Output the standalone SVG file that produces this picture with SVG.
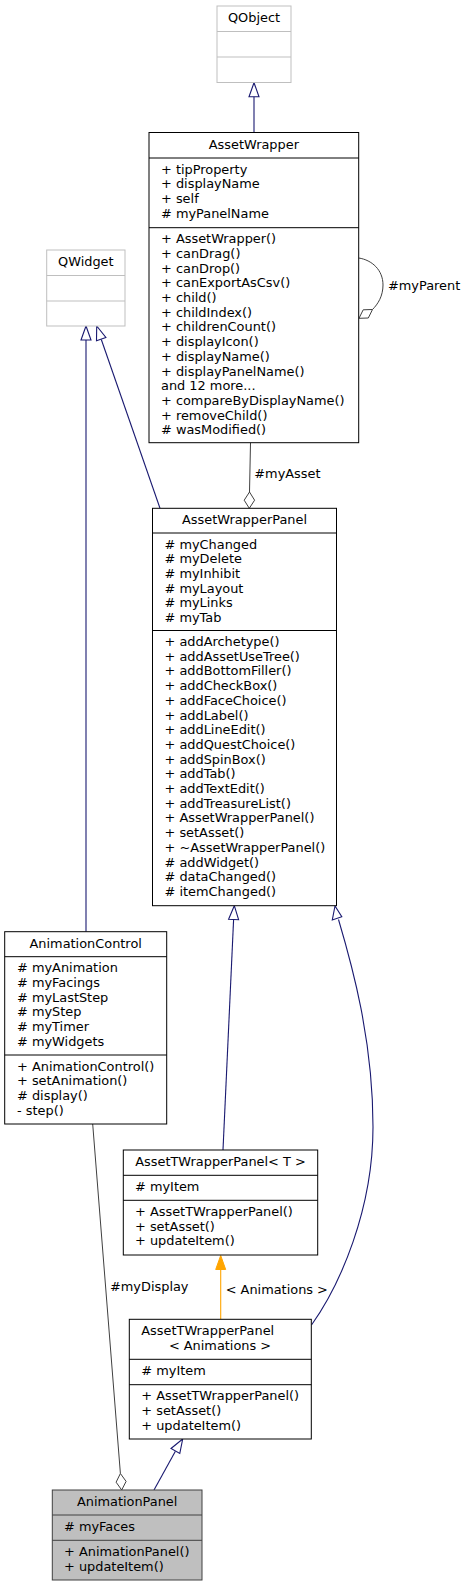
<svg xmlns="http://www.w3.org/2000/svg" width="465" height="1587" viewBox="0 0 465 1587">
<style>
text{font-family:"DejaVu Sans","Liberation Sans",sans-serif;font-size:12.9px;fill:#000}
.c{text-anchor:middle}
.box{fill:#fff;stroke:#000;stroke-width:1}
.ext{fill:#fff;stroke:#bfbfbf;stroke-width:1}
.cur{fill:#bfbfbf;stroke:#404040;stroke-width:1}
.sep{stroke:#000;stroke-width:1}
.sepg{stroke:#bfbfbf;stroke-width:1}
.sepc{stroke:#404040;stroke-width:1}
.inh{fill:none;stroke:#191970;stroke-width:1.1}
.ahead{fill:#fff;stroke:#191970;stroke-width:1.1}
.agg{fill:none;stroke:#404040;stroke-width:1}
.dia{fill:#fff;stroke:#404040;stroke-width:1}
.tpl{fill:none;stroke:orange;stroke-width:1.1}
.thead{fill:orange;stroke:orange;stroke-width:1}
</style>
<rect width="465" height="1587" fill="#fff"/>

<g id="edges">
  <!-- QObject -> AssetWrapper -->
  <line class="inh" x1="254" y1="132.5" x2="254" y2="96.5"/>
  <polygon class="ahead" points="254,82.7 249,96.7 259,96.7"/>
  <!-- QWidget -> AnimationControl -->
  <line class="inh" x1="86" y1="931.7" x2="86" y2="340"/>
  <polygon class="ahead" points="86,326 81,340 91,340"/>
  <!-- QWidget -> AssetWrapperPanel -->
  <line class="inh" x1="160" y1="508.3" x2="101.3" y2="339.5"/>
  <polygon class="ahead" points="96.7,326 96.5,340.8 105.9,337.5"/>
  <!-- AssetWrapper -> AssetWrapperPanel (#myAsset) -->
  <line class="agg" x1="250.5" y1="442.7" x2="249.5" y2="492"/>
  <polygon class="dia" points="249.3,508.3 244.2,500.2 249.5,492 254.6,500.2"/>
  <text x="254.3" y="478.3">#myAsset</text>
  <!-- AssetWrapper self (#myParent) -->
  <path class="agg" d="M358.7,258 C372,260 383,270 383,285 C383,296 378,304 372.5,309.5"/>
  <polygon class="dia" points="359,318.3 363.2,309.8 372.5,309.5 368.3,318"/>
  <text x="388" y="289.5">#myParent</text>
  <!-- AssetWrapperPanel -> AssetTWrapperPanel<T> -->
  <line class="inh" x1="223" y1="1150" x2="233.6" y2="919.5"/>
  <polygon class="ahead" points="234.3,905.7 228.6,919.3 238.6,919.7"/>
  <!-- AssetWrapperPanel -> AssetTWrapperPanel<Animations> -->
  <path class="inh" d="M338.5,919.5 C352,965 373,1040 373,1127 C373,1210 340,1285 311.5,1325"/>
  <polygon class="ahead" points="335,906 332.3,920 341.8,916.8"/>
  <!-- AssetTWrapperPanel<T> -> <Animations> (template) -->
  <line class="tpl" x1="220.7" y1="1319.3" x2="220.7" y2="1269"/>
  <polygon class="thead" points="220.7,1255.5 215.7,1269.5 225.7,1269.5"/>
  <text x="225.7" y="1294">&lt; Animations &gt;</text>
  <!-- AssetTWrapperPanel<Animations> -> AnimationPanel -->
  <line class="inh" x1="154" y1="1490" x2="175.4" y2="1451.3"/>
  <polygon class="ahead" points="182.7,1439 171,1448.5 179.8,1453.4"/>
  <!-- AnimationControl -> AnimationPanel (#myDisplay) -->
  <line class="agg" x1="92.7" y1="1124" x2="120.4" y2="1473.5"/>
  <polygon class="dia" points="121.7,1490 116.1,1482.2 120.4,1473.5 126.1,1481.4"/>
  <text x="110" y="1291">#myDisplay</text>
</g>

<g id="QObject">
  <rect class="ext" x="217" y="6" width="74" height="76.5"/>
  <line class="sepg" x1="217" y1="31.5" x2="291" y2="31.5"/>
  <line class="sepg" x1="217" y1="57" x2="291" y2="57"/>
  <text class="c" x="254" y="22">QObject</text>
</g>

<g id="AssetWrapper">
  <rect class="box" x="149" y="132.5" width="209.7" height="310.2"/>
  <line class="sep" x1="149" y1="158" x2="358.7" y2="158"/>
  <line class="sep" x1="149" y1="227.7" x2="358.7" y2="227.7"/>
  <text class="c" x="253.85" y="148.5">AssetWrapper</text>
  <text x="161" y="173.5">+ tipProperty</text>
  <text x="161" y="188.2">+ displayName</text>
  <text x="161" y="202.9">+ self</text>
  <text x="161" y="217.6"># myPanelName</text>
  <text x="161" y="243.2">+ AssetWrapper()</text>
  <text x="161" y="257.9">+ canDrag()</text>
  <text x="161" y="272.6">+ canDrop()</text>
  <text x="161" y="287.3">+ canExportAsCsv()</text>
  <text x="161" y="302">+ child()</text>
  <text x="161" y="316.7">+ childIndex()</text>
  <text x="161" y="331.4">+ childrenCount()</text>
  <text x="161" y="346.1">+ displayIcon()</text>
  <text x="161" y="360.8">+ displayName()</text>
  <text x="161" y="375.5">+ displayPanelName()</text>
  <text x="161" y="390.2">and 12 more...</text>
  <text x="161" y="404.9">+ compareByDisplayName()</text>
  <text x="161" y="419.6">+ removeChild()</text>
  <text x="161" y="434.3"># wasModified()</text>
</g>

<g id="QWidget">
  <rect class="ext" x="46.7" y="250" width="78.3" height="76"/>
  <line class="sepg" x1="46.7" y1="275.5" x2="125" y2="275.5"/>
  <line class="sepg" x1="46.7" y1="301" x2="125" y2="301"/>
  <text class="c" x="85.85" y="266">QWidget</text>
</g>

<g id="AssetWrapperPanel">
  <rect class="box" x="152.5" y="508.3" width="184" height="397.4"/>
  <line class="sep" x1="152.5" y1="533" x2="336.5" y2="533"/>
  <line class="sep" x1="152.5" y1="630.5" x2="336.5" y2="630.5"/>
  <text class="c" x="244.5" y="524.3">AssetWrapperPanel</text>
  <text x="164.5" y="548.5"># myChanged</text>
  <text x="164.5" y="563.2"># myDelete</text>
  <text x="164.5" y="577.9"># myInhibit</text>
  <text x="164.5" y="592.6"># myLayout</text>
  <text x="164.5" y="607.3"># myLinks</text>
  <text x="164.5" y="622"># myTab</text>
  <text x="164.5" y="646">+ addArchetype()</text>
  <text x="164.5" y="660.7">+ addAssetUseTree()</text>
  <text x="164.5" y="675.4">+ addBottomFiller()</text>
  <text x="164.5" y="690.1">+ addCheckBox()</text>
  <text x="164.5" y="704.8">+ addFaceChoice()</text>
  <text x="164.5" y="719.5">+ addLabel()</text>
  <text x="164.5" y="734.2">+ addLineEdit()</text>
  <text x="164.5" y="748.9">+ addQuestChoice()</text>
  <text x="164.5" y="763.6">+ addSpinBox()</text>
  <text x="164.5" y="778.3">+ addTab()</text>
  <text x="164.5" y="793">+ addTextEdit()</text>
  <text x="164.5" y="807.7">+ addTreasureList()</text>
  <text x="164.5" y="822.4">+ AssetWrapperPanel()</text>
  <text x="164.5" y="837.1">+ setAsset()</text>
  <text x="164.5" y="851.8">+ ~AssetWrapperPanel()</text>
  <text x="164.5" y="866.5"># addWidget()</text>
  <text x="164.5" y="881.2"># dataChanged()</text>
  <text x="164.5" y="895.9"># itemChanged()</text>
</g>

<g id="AnimationControl">
  <rect class="box" x="4.7" y="931.7" width="162" height="192.3"/>
  <line class="sep" x1="4.7" y1="956.7" x2="166.7" y2="956.7"/>
  <line class="sep" x1="4.7" y1="1055" x2="166.7" y2="1055"/>
  <text class="c" x="85.7" y="947.7">AnimationControl</text>
  <text x="17" y="972.2"># myAnimation</text>
  <text x="17" y="986.9"># myFacings</text>
  <text x="17" y="1001.6"># myLastStep</text>
  <text x="17" y="1016.3"># myStep</text>
  <text x="17" y="1031"># myTimer</text>
  <text x="17" y="1045.7"># myWidgets</text>
  <text x="17" y="1070.5">+ AnimationControl()</text>
  <text x="17" y="1085.2">+ setAnimation()</text>
  <text x="17" y="1099.9"># display()</text>
  <text x="17" y="1114.6">- step()</text>
</g>

<g id="AssetTWrapperPanel_T">
  <rect class="box" x="123.3" y="1150" width="194.4" height="105"/>
  <line class="sep" x1="123.3" y1="1175.3" x2="317.7" y2="1175.3"/>
  <line class="sep" x1="123.3" y1="1200.3" x2="317.7" y2="1200.3"/>
  <text class="c" x="220.5" y="1166">AssetTWrapperPanel&lt; T &gt;</text>
  <text x="135" y="1190.8"># myItem</text>
  <text x="135" y="1215.8">+ AssetTWrapperPanel()</text>
  <text x="135" y="1230.5">+ setAsset()</text>
  <text x="135" y="1245.2">+ updateItem()</text>
</g>

<g id="AssetTWrapperPanel_Animations">
  <rect class="box" x="129.3" y="1319.3" width="182" height="119.7"/>
  <line class="sep" x1="129.3" y1="1359.3" x2="311.3" y2="1359.3"/>
  <line class="sep" x1="129.3" y1="1384.7" x2="311.3" y2="1384.7"/>
  <text x="141.3" y="1335.3">AssetTWrapperPanel</text>
  <text class="c" x="220" y="1350">&lt; Animations &gt;</text>
  <text x="141.3" y="1374.8"># myItem</text>
  <text x="141.3" y="1400.2">+ AssetTWrapperPanel()</text>
  <text x="141.3" y="1414.9">+ setAsset()</text>
  <text x="141.3" y="1429.6">+ updateItem()</text>
</g>

<g id="AnimationPanel">
  <rect class="cur" x="52.3" y="1490" width="149.7" height="90"/>
  <line class="sepc" x1="52.3" y1="1515" x2="202" y2="1515"/>
  <line class="sepc" x1="52.3" y1="1540.3" x2="202" y2="1540.3"/>
  <text class="c" x="127.15" y="1506">AnimationPanel</text>
  <text x="64" y="1530.5"># myFaces</text>
  <text x="64" y="1555.8">+ AnimationPanel()</text>
  <text x="64" y="1570.5">+ updateItem()</text>
</g>
</svg>
